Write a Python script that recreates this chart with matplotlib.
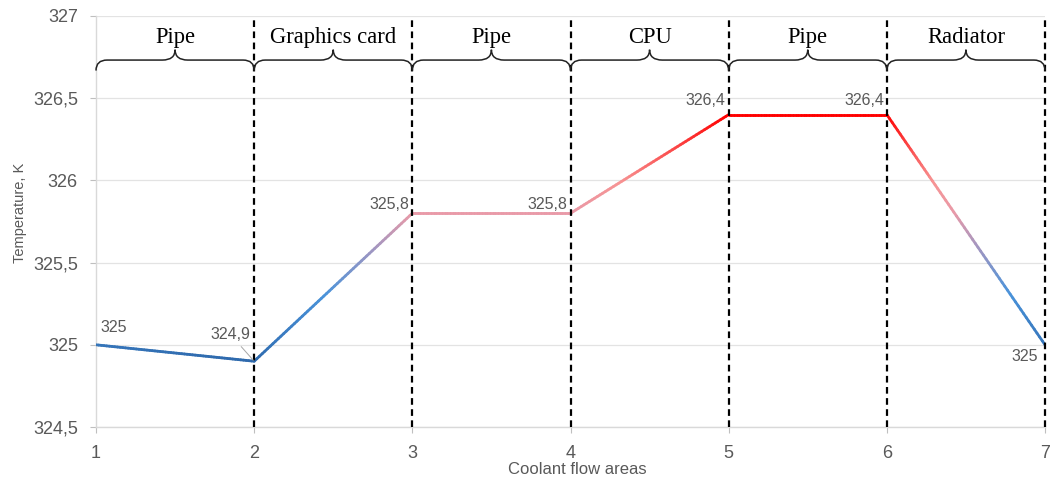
import numpy as np
import matplotlib
matplotlib.use('Agg')
import matplotlib.pyplot as plt
from matplotlib.collections import LineCollection
from matplotlib.colors import LinearSegmentedColormap
from matplotlib.path import Path
from matplotlib.patches import PathPatch

# chart data
areas = [1, 2, 3, 4, 5, 6, 7]
temperature = [325.0, 324.9, 325.8, 325.8, 326.4, 326.4, 325.0]
sections = ['Pipe', 'Graphics card', 'Pipe', 'CPU', 'Pipe', 'Radiator']
yticks = [324.5, 325.0, 325.5, 326.0, 326.5, 327.0]

plt.rcParams['font.family'] = ['Liberation Sans', 'DejaVu Sans']
grey = '#595959'

fig = plt.figure(figsize=(10.52, 4.8), dpi=100)
ax = fig.add_axes([96 / 1052, 53 / 480, (1045 - 96) / 1052, (427 - 16) / 480])

ax.set_xlim(1, 7)
ax.set_ylim(324.5, 327)
ax.set_xticks(areas)
ax.set_yticks(yticks)
ax.set_yticklabels([f'{v:g}'.replace('.', ',') for v in yticks])
ax.tick_params(colors='#BFBFBF', labelcolor=grey, labelsize=13, length=4, width=0.8, pad=9)
ax.grid(axis='y', color='#E3E3E3', lw=0.9)
ax.set_axisbelow(True)
for s in ['top', 'right']:
    ax.spines[s].set_visible(False)
for s in ['left', 'bottom']:
    ax.spines[s].set_color('#D9D9D9')
    ax.spines[s].set_linewidth(1.0)

# gradient line, colour follows the temperature
cmap = LinearSegmentedColormap.from_list('temp', [
    (0.0, '#2E69AC'), (0.07, '#3676BB'), (0.27, '#4A93DA'), (0.47, '#A796BF'),
    (0.6, '#E99AA8'), (0.73, '#F79393'), (1.0, '#FF0000')])
x = np.array(areas, dtype=float)
y = np.array(temperature)
segs, vals = [], []
for i in range(len(x) - 1):
    t = np.linspace(0, 1, 60)
    xs = x[i] + (x[i + 1] - x[i]) * t
    ys = y[i] + (y[i + 1] - y[i]) * t
    pts = np.column_stack([xs, ys])
    for j in range(len(t) - 1):
        segs.append(pts[j:j + 2])
        vals.append((ys[j] + ys[j + 1]) / 2)
vals = np.array(vals)
lc = LineCollection(segs, colors=cmap((vals - y.min()) / (y.max() - y.min())),
                    linewidths=2.0, capstyle='round', zorder=3)
ax.add_collection(lc)

# dashed borders between areas
ax.vlines(areas[1:], 324.5, 327, colors='black', lw=1.6, linestyles=(0, (3, 2)),
          zorder=4, clip_on=False)

# curly braces with section names
yf, ye, yp = 326.732, 326.668, 326.795
dc, dp = 0.07, 0.08
for k, name in enumerate(sections):
    x0, x1 = areas[k], areas[k + 1]
    xm = (x0 + x1) / 2
    verts = [(x0, ye), (x0, yf), (x0 + dc, yf),
             (xm - dp, yf),
             (xm, yf), (xm, yp),
             (xm, yf), (xm + dp, yf),
             (x1 - dc, yf),
             (x1, yf), (x1, ye)]
    codes = [Path.MOVETO, Path.CURVE3, Path.CURVE3, Path.LINETO,
             Path.CURVE3, Path.CURVE3, Path.CURVE3, Path.CURVE3,
             Path.LINETO, Path.CURVE3, Path.CURVE3]
    ax.add_patch(PathPatch(Path(verts, codes), fill=False, ec='#222222', lw=1.1,
                           zorder=5, clip_on=False))
    ax.text(xm, 326.838, name, ha='center', va='baseline', fontsize=16.3,
            family=['Liberation Serif', 'DejaVu Serif'], color='black')

# data labels
offsets = [(4, 17, 'left'), (-4, 27, 'right'), (-3, 9, 'right'), (-3, 9, 'right'),
           (-3, 14, 'right'), (-3, 14, 'right'), (-7, -12, 'right')]
for xi, yi, (dx, dy, ha) in zip(areas, temperature, offsets):
    lab = f'{yi:g}'.replace('.', ',')
    if xi == 2:
        ax.annotate(lab, (xi, yi), xytext=(dx, dy), textcoords='offset pixels',
                    ha=ha, va='center', fontsize=11.5, color=grey, zorder=6,
                    arrowprops=dict(arrowstyle='-', color='#A6A6A6', lw=0.7,
                                    shrinkA=2, shrinkB=1))
    else:
        ax.annotate(lab, (xi, yi), xytext=(dx, dy), textcoords='offset pixels',
                    ha=ha, va='center', fontsize=11.5, color=grey, zorder=6)

fig.text(577 / 1052, 1 - 470 / 480, 'Coolant flow areas', ha='center', va='center',
         fontsize=12, color=grey)
fig.text(20 / 1052, 1 - 213 / 480, 'Temperature, K', ha='center', va='center',
         rotation=90, fontsize=10.5, color=grey)

fig.savefig('out.png', dpi=100)
